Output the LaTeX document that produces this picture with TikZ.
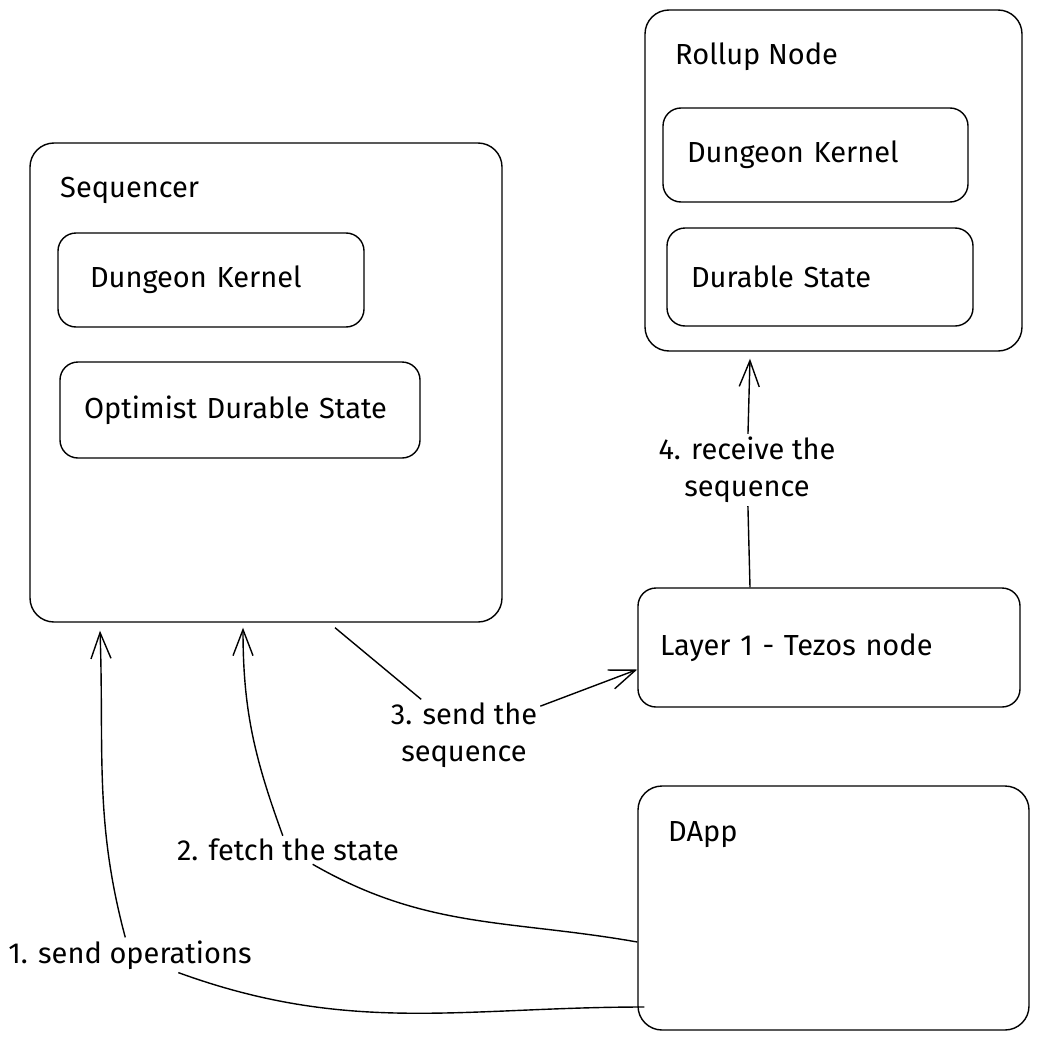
\documentclass[tikz,border=0pt]{standalone}
\usepackage{fontspec}
\setmainfont{Fira Sans}
\usetikzlibrary{arrows.meta, positioning}

\begin{document}
\begin{tikzpicture}[x=1pt, y=-1pt,
    every node/.style={font=\fontsize{29}{37}\selectfont},
    box/.style={draw, line width=1.4pt, rounded corners=24pt},
    inner/.style={draw, line width=1.4pt, rounded corners=18pt, align=left, inner xsep=24pt, text width=#1},
    title/.style={anchor=west, inner sep=0pt},
    tag/.style={fill=white, align=center, inner sep=3pt},
    flow/.style={line width=1.4pt, -{Straight Barb[length=26pt, width=20pt]}}]
    \useasboundingbox [fill=white] (0,0) rectangle (1040,1041);

    % sequencer
    \node (seq) [box, minimum width=472pt, minimum height=479pt] at (266,382.5) {};
    \node (seqtitle) [title] at (60,190) {Sequencer};
    \node (seqkernel) [inner=258pt, minimum height=94pt] at (211,280) {\hspace*{8pt}Dungeon Kernel};
    \node (seqstate) [inner=312pt, minimum height=96pt] at (240,410) {Optimist Durable State};

    % rollup node
    \node (rollup) [box, minimum width=377pt, minimum height=341pt] at (833.5,180.5) {};
    \node (rolluptitle) [title] at (675,57) {Rollup Node};
    \node (rollkernel) [inner=257pt, minimum height=94pt] at (815.5,155) {Dungeon Kernel};
    \node (rollstate) [inner=258pt, minimum height=98pt] at (820,277) {Durable State};

    % layer 1 and dapp
    \node (layer1) [box, inner=338pt, inner xsep=22pt, minimum height=119pt] at (829,647.5) {Layer 1 - Tezos node};
    \node (dapp) [box, minimum width=391pt, minimum height=244pt] at (833.5,908) {};
    \node (dapptitle) [title] at (668,835) {DApp};

    % labels
    \node (lab1) [tag] at (130,955) {1. send operations};
    \node (lab2) [tag] at (288,850) {2. fetch the state};
    \node (lab3) [tag] at (464,735) {3. send the\\sequence};
    \node (lab4) [tag] at (747,470) {4. receive the\\sequence};

    \draw [flow] ([xshift=7pt, yshift=-99pt]dapp.west) to[out=180, in=-20] (lab1)
        to[out=105, in=-88] ([xshift=-166pt, yshift=-8pt]seq.south);
    \draw [flow] ([yshift=-34pt]dapp.west) to[out=170, in=-30] (lab2)
        to[out=110, in=-90] ([xshift=-23pt, yshift=-5pt]seq.south);
    \draw [flow] ([xshift=69pt, yshift=-5pt]seq.south) -- (lab3) -- ([yshift=-22pt]layer1.west);
    \draw [flow] ([xshift=-79pt]layer1.north) -- (lab4) -- ([xshift=-83.5pt, yshift=-7pt]rollup.south);
\end{tikzpicture}
\end{document}
